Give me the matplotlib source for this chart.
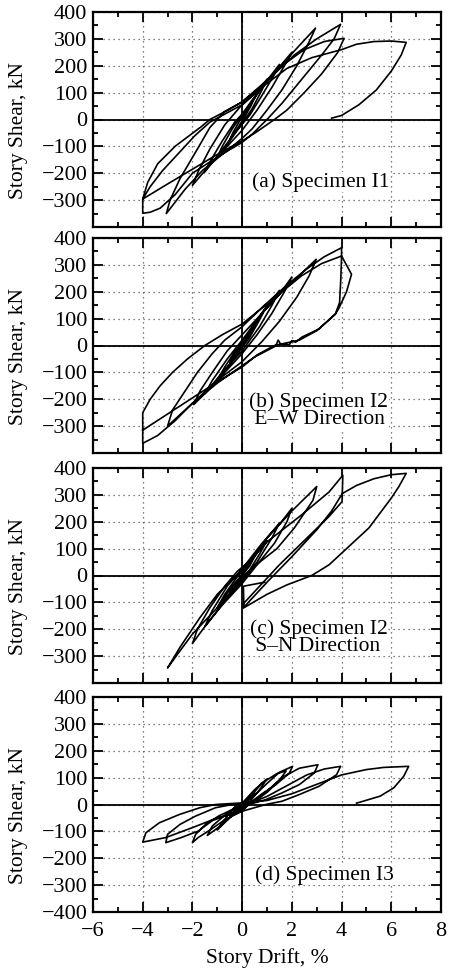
import matplotlib
matplotlib.use("Agg")
import matplotlib.pyplot as plt
from matplotlib.ticker import MultipleLocator, FixedLocator

# ---------------- data (drift %, story shear kN) ----------------
x_ticks = [-6, -4, -2, 0, 2, 4, 6, 8]
y_ticks = [-400, -300, -200, -100, 0, 100, 200, 300, 400]

panel_labels = ["(a) Specimen I1", "(b) Specimen I2\n E\u2013W Direction",
                "(c) Specimen I2\n S\u2013N Direction", "(d) Specimen I3"]

a_loop = [
    (0, 0), (0.25, 45), (0.5, 80), (0.35, 50), (0.1, 10), (-0.2, -35), (-0.5, -75), (-0.35, -45), (-0.1, -5),
    (0.3, 50), (0.7, 110), (1.0, 150), (0.8, 110), (0.4, 40), (0, -15), (-0.5, -80), (-1.0, -140), (-0.8, -100),
    (-0.4, -35), (0, 20),
    (0.5, 85), (1.0, 145), (1.5, 205), (1.25, 160), (0.8, 90), (0.3, 15), (-0.3, -50), (-0.9, -125), (-1.5, -195),
    (-1.25, -150), (-0.8, -80), (-0.3, -10), (0.2, 40),
    (0.8, 120), (1.4, 185), (2.0, 250), (1.7, 200), (1.2, 120), (0.6, 35), (0, -40), (-0.7, -110), (-1.4, -180),
    (-2.0, -245), (-1.75, -190), (-1.3, -110), (-0.7, -20), (-0.1, 45),
    (0.6, 105), (1.3, 170), (2.1, 255), (2.95, 340), (2.7, 290), (2.2, 200), (1.6, 110), (1.0, 35), (0.4, -35),
    (0, -70), (-0.8, -130), (-1.6, -190), (-2.3, -260), (-3.05, -350), (-2.9, -300), (-2.5, -220), (-1.8, -110),
    (-1.3, -30), (-0.7, 30), (0, 65),
    (0.6, 110), (1.3, 170), (2.1, 240), (3.0, 300), (3.96, 354), (3.7, 300), (3.2, 240), (2.4, 150), (1.6, 60),
    (1.0, 0), (0.4, -55), (0, -85), (-1.0, -140), (-2.0, -200), (-2.7, -280), (-3.3, -330), (-3.7, -345),
    (-4.0, -349), (-4.0, -296),
    (-3.8, -234), (-3.4, -165), (-2.7, -100), (-2.2, -65), (-1.65, -27), (-1.3, 0), (-0.57, 35), (0, 66),
    (0.8, 130), (1.6, 200), (2.5, 260), (3.3, 290), (4.1, 302), (3.85, 250), (3.2, 170), (2.5, 100), (1.8, 35),
    (1.3, 0), (0.6, -45), (0, -80), (-1.0, -130), (-2.0, -185), (-3.0, -240), (-4.0, -296),
    (-3.7, -250), (-3.2, -190), (-2.5, -120), (-1.9, -60), (-1.3, -10), (-0.6, 25), (0, 55),
    (0.8, 120), (1.8, 190), (2.8, 230), (4.0, 260), (4.6, 280), (5.3, 290), (6.0, 292), (6.6, 287),
    (6.4, 240), (6.0, 180), (5.4, 110), (4.7, 55), (4.0, 15), (3.6, 5),
]

b_loop = [
    (0, 0), (0.25, 40), (0.5, 75), (0.3, 40), (0, 0), (-0.25, -35), (-0.5, -65), (-0.3, -30), (0, 10),
    (0.5, 80), (1.0, 150), (0.7, 95), (0.3, 30), (-0.3, -45), (-1.0, -130), (-0.7, -80), (-0.2, -10), (0.3, 50),
    (1.0, 145), (1.5, 205), (1.2, 150), (0.7, 70), (0, -20), (-0.8, -100), (-1.5, -180), (-1.2, -130),
    (-0.6, -50), (0, 20),
    (0.8, 120), (1.5, 190), (2.0, 255), (1.7, 200), (1.2, 120), (0.6, 40), (0, -30), (-0.8, -110), (-1.4, -170),
    (-1.95, -220), (-1.7, -170), (-1.2, -100), (-0.6, -20), (0, 40),
    (0.8, 120), (1.6, 200), (2.3, 260), (2.98, 321), (2.7, 260), (2.2, 180), (1.5, 90), (0.8, 15), (0, -60),
    (-1, -130), (-2, -215), (-3, -300), (-2.8, -240), (-2.3, -170), (-1.8, -100), (-1.2, -30), (-0.7, 20), (0, 70),
    (0.9, 150), (1.8, 225), (2.6, 285), (3.3, 330), (4.0, 364), (4.0, 333), (3.97, 250), (3.92, 160), (3.75, 117),
    (3.1, 62), (2.4, 31), (2.15, 12), (2.0, 18), (1.9, 3), (1.55, 5), (1.45, 20), (1.35, -2), (0.5, -43), (0, -75),
    (-1, -140), (-2, -215), (-2.7, -280), (-3.4, -335), (-4, -364), (-4, -250),
    (-3.7, -200), (-3.3, -150), (-2.8, -100), (-2.2, -50), (-1.5, 0), (-0.8, 40), (0, 80),
    (0.8, 140), (1.6, 200), (2.4, 260), (3.2, 305), (4.0, 333), (4.4, 265), (4.2, 200), (3.9, 140), (3.75, 117),
    (3.0, 55), (2.3, 20), (1.3, 0), (0.6, -35), (0, -80), (-1, -135), (-1.95, -192), (-3, -255), (-4, -315),
]

c_loop = [
    (0, 0), (0.25, 40), (0.5, 70), (0.3, 35), (0, 0), (-0.25, -35), (-0.5, -65), (-0.3, -30), (0, 5),
    (0.5, 75), (1.0, 130), (0.7, 80), (0.3, 20), (-0.3, -45), (-1.0, -120), (-0.7, -70), (-0.2, -5), (0.3, 45),
    (1.0, 140), (1.5, 195), (1.2, 140), (0.6, 50), (0, -20), (-0.7, -95), (-1.5, -190), (-1.2, -130),
    (-0.6, -40), (0, 25),
    (0.8, 120), (1.5, 190), (2.0, 250), (1.8, 200), (1.3, 120), (0.6, 40), (0, -30), (-0.8, -110), (-1.5, -190),
    (-2.0, -253), (-1.8, -200), (-1.3, -120), (-0.7, -40), (-0.2, 15),
    (0.5, 70), (1.0, 140), (2.0, 240), (3.0, 331), (2.85, 280), (2.1, 177), (1.4, 100), (0.75, 53), (0, -5),
    (-0.4, -40), (-1, -120), (-2, -218), (-2.6, -293), (-3.0, -344), (-2.5, -267), (-1.7, -157), (-1.0, -70),
    (-0.47, -21), (0, 20),
    (1.0, 125), (2.4, 226), (3.5, 311), (4.05, 373), (4.02, 275), (3.5, 220), (2.5, 130), (1.5, 40), (0.7, -40),
    (0.05, -105),
    (0.05, -120), (1.0, -25), (2.0, 70), (3.0, 170), (3.6, 240), (4.03, 305), (4.6, 335), (5.3, 360), (6.0, 375),
    (6.6, 380),
    (6.3, 330), (6.0, 288), (5.1, 177), (4.2, 100), (3.5, 40), (2.8, 0), (1.8, -35), (1.0, -70), (0.07, -120),
    (0.05, -40), (0.9, -25),
]

d_loop = [
    (0, 0), (0.25, 25), (0.5, 45), (0.3, 20), (0, 0), (-0.25, -25), (-0.5, -45), (-0.3, -20), (0, 5),
    (0.5, 55), (1.0, 95), (0.7, 55), (0.3, 10), (-0.3, -30), (-1.0, -95), (-0.7, -55), (-0.3, -10), (0.2, 15),
    (0.8, 80), (1.4, 115), (1.77, 125), (1.5, 90), (1.0, 45), (0.4, 5), (-0.2, -25), (-0.8, -75), (-1.4, -115),
    (-1.2, -80), (-0.7, -40), (-0.2, -5),
    (0.4, 25), (0.95, 74), (1.5, 120), (2.03, 142), (1.9, 117), (1.36, 74), (0.8, 40), (0.3, 5), (0, -25),
    (-0.68, -56), (-1.36, -99), (-1.77, -123), (-2.0, -142), (-1.87, -111), (-1.47, -74), (-0.95, -43),
    (-0.4, -19), (0, -6),
    (0.5, 15), (1.0, 50), (1.6, 100), (2.3, 135), (3.05, 148), (2.9, 117), (2.3, 74), (1.6, 43), (0.95, 18),
    (0.27, 0), (0, -20), (-0.5, -35), (-1.2, -60), (-1.77, -99), (-2.45, -123), (-3.07, -142), (-3.0, -111),
    (-2.5, -74), (-1.87, -43), (-1.07, -12), (-0.4, 0),
    (0.3, 5), (1.0, 30), (1.8, 70), (2.6, 110), (3.3, 132), (3.96, 142), (3.8, 111), (3.1, 68), (2.3, 37),
    (1.6, 12), (0.95, 0), (0, -25), (-1.0, -50), (-2.0, -86), (-3.07, -123), (-4.0, -140), (-3.87, -105),
    (-3.33, -68), (-2.52, -37), (-1.7, -12), (-1.07, 0), (0, 6),
    (1.0, 15), (2.0, 40), (3.0, 75), (4.0, 110), (5.0, 130), (5.7, 138), (6.7, 142), (6.5, 105), (6.1, 62),
    (5.55, 31), (4.75, 9), (4.6, 5),
]

loops = [a_loop, b_loop, c_loop, d_loop]

# ---------------- layout ----------------
W, H = 451, 974
fig = plt.figure(figsize=(W / 100, H / 100), dpi=100)
plt.rcParams['font.family'] = ['Liberation Serif', 'DejaVu Serif']

left_px, right_px = 93, 441
panels_px = [(12, 227), (238, 453), (468, 683), (697, 912)]
label_xy = [(0.457, 0.209), (0.449, 0.198), (0.452, 0.212), (0.466, 0.172)]

FS = 16
LFS = 15.5


def fmt(v):
    return f"{v}".replace('-', '\u2212')


for i, (top, bot) in enumerate(panels_px):
    ax = fig.add_axes([left_px / W, 1 - bot / H, (right_px - left_px) / W, (bot - top) / H])
    ax.set_xlim(-6, 8)
    ax.set_ylim(-400, 400)
    ax.xaxis.set_major_locator(FixedLocator(x_ticks))
    ax.xaxis.set_minor_locator(MultipleLocator(1))
    ax.yaxis.set_major_locator(FixedLocator(y_ticks))
    ax.yaxis.set_minor_locator(MultipleLocator(50))
    ax.grid(True, which='major', linestyle=(0, (1, 3)), color='#555555', linewidth=0.9)
    ax.tick_params(which='both', direction='in', top=True, right=True, width=1.3, labelsize=FS)
    ax.tick_params(axis='y', pad=4)
    ax.tick_params(axis='x', pad=7)
    ax.tick_params(which='major', length=7)
    ax.tick_params(which='minor', length=3.5)
    for s in ax.spines.values():
        s.set_linewidth(1.6)
    ax.axhline(0, color='black', linewidth=1.3, zorder=2)
    ax.axvline(0, color='black', linewidth=1.3, zorder=2)

    xs = [p[0] for p in loops[i]]
    ys = [p[1] for p in loops[i]]
    ax.plot(xs, ys, color='black', linewidth=1.2, zorder=3)

    if i < 3:
        ax.set_yticklabels([('' if v == -400 else fmt(v)) for v in y_ticks])
        ax.set_xticklabels([])
    else:
        ax.set_yticklabels([fmt(v) for v in y_ticks])
        ax.set_xticklabels([fmt(v) for v in x_ticks])
        ax.set_xlabel("Story Drift, %", fontsize=LFS, labelpad=5)
    ax.set_ylabel("Story Shear, kN", fontsize=LFS)
    ax.yaxis.set_label_coords(-0.188, 0.45)

    lx, ly = label_xy[i]
    ax.text(lx, ly, panel_labels[i], transform=ax.transAxes, fontsize=LFS, va='center', ha='left',
            zorder=4, linespacing=0.85,
            bbox=dict(facecolor='white', edgecolor='none', pad=0.3))

fig.savefig("out.png", dpi=100)
